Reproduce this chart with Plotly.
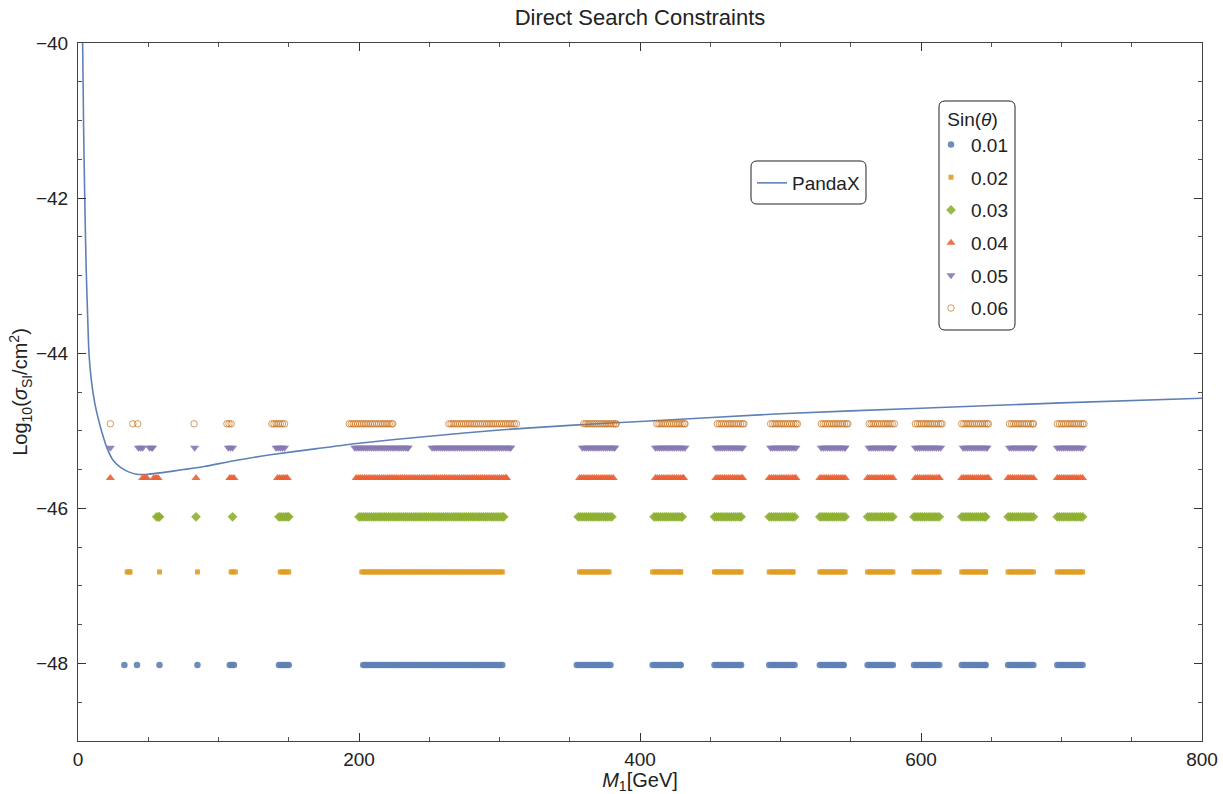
import numpy as np
import plotly.graph_objects as go

# ---------------- data ----------------
pandax_mass = [3.3, 4.0, 4.8, 5.8, 7.0, 7.8, 9.5, 12, 14.5, 17, 21, 25, 30, 36, 42,
               50, 60, 75, 90, 110, 137, 170, 200, 250, 300, 350, 400, 500, 600, 700, 800]
pandax_logsigma = [-40.0, -41.1, -42.0, -42.9, -43.6, -44.0, -44.35, -44.65, -44.85, -45.02,
                   -45.24, -45.38, -45.47, -45.53, -45.56, -45.56, -45.54, -45.50, -45.46,
                   -45.39, -45.31, -45.23, -45.16, -45.07, -44.99, -44.93, -44.88, -44.78,
                   -44.71, -44.64, -44.58]

sin_labels = ["0.01", "0.02", "0.03", "0.04", "0.05", "0.06"]
sin_levels = [-48.02, -46.82, -46.11, -45.61, -45.22, -44.91]

# mass intervals [start, end] (GeV) covered by the allowed points of each sin(theta)
ranges_001 = [(33, 33), (42, 42), (58, 58), (85, 85), (108, 111), (143, 150), (203, 302),
              (355, 379), (409, 429), (453, 472), (492, 510), (528, 545), (562, 580),
              (595, 613), (629, 646), (662, 680), (697, 715)]
ranges_002 = [(35, 37), (58, 58), (85, 85), (109, 112), (144, 150), (202, 302), (357, 378),
              (409, 429), (453, 472), (492, 509), (528, 546), (562, 580), (595, 613),
              (629, 646), (662, 680), (697, 715)]
ranges_003 = [(56, 58), (84, 84), (110, 110), (143, 150), (200, 303), (356, 380), (410, 430),
              (453, 472), (492, 510), (528, 546), (562, 580), (595, 613), (629, 646),
              (662, 680), (697, 715)]
ranges_004 = [(23, 23), (46, 49), (54, 57), (84, 84), (108, 111), (142, 149), (198, 305),
              (357, 381), (411, 431), (454, 473), (492, 511), (528, 546), (562, 580),
              (596, 613), (629, 648), (662, 680), (697, 715)]
ranges_005 = [(23, 23), (43, 46), (51, 53), (83, 83), (107, 110), (141, 147), (197, 235),
              (252, 308), (359, 382), (411, 432), (454, 473), (493, 511), (529, 546),
              (563, 580), (596, 614), (630, 647), (663, 680), (697, 715)]
ranges_006 = [(23, 23), (39, 39), (42.5, 42.5), (82.6, 82.6), (106, 109), (138, 147),
              (193, 224), (264, 312), (360, 383), (412, 432), (455, 474), (493, 512),
              (529, 548), (563, 581), (596, 615), (629, 648), (663, 680), (697, 716)]
all_ranges = [ranges_001, ranges_002, ranges_003, ranges_004, ranges_005, ranges_006]
SCAN_STEP = 1.5  # spacing of the scan points inside a dense cluster

# ---------------- styles ----------------
colors = ["#5E81B5", "#E19C24", "#8FB032", "#EB6235", "#8778B3", "#C56E1A"]
symbols = ["circle", "square", "diamond", "triangle-up", "triangle-down", "circle-open"]
sizes = [6.5, 5, 7.5, 8, 8, 6.5]

FONT = "Liberation Sans, Arial, Helvetica, sans-serif"

fig = go.Figure()

fig.add_trace(go.Scatter(
    x=pandax_mass, y=pandax_logsigma, mode="lines", name="PandaX", showlegend=True,
    line=dict(color="#5E81B5", width=1.6, shape="spline", smoothing=0.6),
    legend="legend"))

for lab, lev, rngs, col, sym, sz in zip(sin_labels, sin_levels, all_ranges, colors, symbols, sizes):
    xs = []
    for a, b in rngs:
        xs.extend(np.arange(a, b + 1e-9, SCAN_STEP).tolist())
        if xs[-1] < b:
            xs.append(b)
    ys = [lev] * len(xs)
    if sym == "circle-open":
        marker = dict(symbol=sym, size=sz, color=col, line=dict(width=1, color=col), opacity=0.7)
    else:
        marker = dict(symbol=sym, size=sz, color=col, line=dict(width=0), opacity=0.9)
    fig.add_trace(go.Scatter(x=xs, y=ys, mode="markers", name=lab, marker=marker,
                             showlegend=True, legend="legend2", legendgroup=lab))

L, R, T, B = 78, 21, 43, 53
W, H = 1223, 794
pw, ph = W - L - R, H - T - B

def px2paper(xp, yp):
    return (xp - L) / pw, (H - B - yp) / ph

def rounded_rect(x0p, y0p, x1p, y1p, r=6):
    def P(x, y):
        a, b = px2paper(x, y)
        return f"{a:.5f},{b:.5f}"
    return (f"M {P(x0p + r, y0p)} L {P(x1p - r, y0p)} Q {P(x1p, y0p)} {P(x1p, y0p + r)} "
            f"L {P(x1p, y1p - r)} Q {P(x1p, y1p)} {P(x1p - r, y1p)} "
            f"L {P(x0p + r, y1p)} Q {P(x0p, y1p)} {P(x0p, y1p - r)} "
            f"L {P(x0p, y0p + r)} Q {P(x0p, y0p)} {P(x0p + r, y0p)} Z")

shapes = [
    dict(type="path", xref="paper", yref="paper", path=rounded_rect(751, 161, 866, 204),
         line=dict(color="#222", width=1), fillcolor="white", layer="above"),
    dict(type="path", xref="paper", yref="paper", path=rounded_rect(939, 101, 1015, 330),
         line=dict(color="#222", width=1), fillcolor="white", layer="above"),
]

lx1, ly1 = px2paper(752, 164)
lx2, ly2 = px2paper(931, 101)

axis_common = dict(
    showline=True, linecolor="#444", linewidth=1, mirror="allticks",
    ticks="inside", tickcolor="#333", ticklen=8, tickwidth=1,
    showgrid=False, zeroline=False,
    tickfont=dict(family=FONT, size=19, color="#222"),
)

fig.update_layout(
    width=W, height=H, showlegend=True,
    margin=dict(l=L, r=R, t=T, b=B, autoexpand=False),
    plot_bgcolor="white", paper_bgcolor="white",
    font=dict(family=FONT, size=18, color="#222"),
    title=dict(text="Direct Search Constraints", x=(L + pw / 2) / W, xanchor="center",
               y=1 - 17 / H, yanchor="middle", font=dict(family=FONT, size=22, color="#222")),
    xaxis=dict(range=[0, 800], tickvals=[0, 200, 400, 600, 800], ticklabelstandoff=1,
               minor=dict(ticks="inside", ticklen=4, dtick=50, tickcolor="#555", showgrid=False),
               title=dict(text="<i>M</i><sub>1</sub>[GeV]", standoff=7,
                          font=dict(family=FONT, size=20, color="#222")),
               automargin=False, **axis_common),
    yaxis=dict(range=[-49, -40], tickvals=[-48, -46, -44, -42, -40], ticklabelstandoff=5,
               minor=dict(ticks="inside", ticklen=4, dtick=0.5, tickcolor="#555", showgrid=False),
               title=dict(text="Log<sub>10</sub>(<i>σ</i><sub>SI</sub>/cm<sup>2</sup>)", standoff=2,
                          font=dict(family=FONT, size=20, color="#222")),
               automargin=False, **axis_common),
    shapes=shapes,
    legend=dict(x=lx1, y=ly1, xanchor="left", yanchor="top", bgcolor="rgba(0,0,0,0)",
                borderwidth=0, font=dict(family=FONT, size=19, color="#222"),
                itemwidth=30, visible=True),
    legend2=dict(x=lx2, y=ly2, xanchor="left", yanchor="top", bgcolor="rgba(0,0,0,0)",
                 borderwidth=0, font=dict(family=FONT, size=19, color="#222"),
                 title=dict(text="Sin(<i>θ</i>)", side="top center",
                            font=dict(family=FONT, size=19, color="#222")),
                 tracegroupgap=5, traceorder="grouped", itemwidth=30, visible=True),
)

fig.write_html("out.html")
